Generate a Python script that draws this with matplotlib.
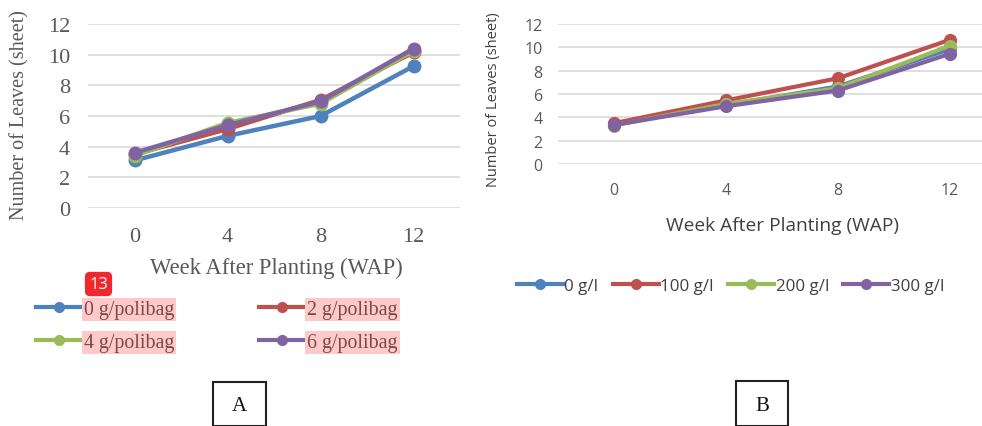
import matplotlib.pyplot as plt
import matplotlib.patches as mpatches
import numpy as np

# Panel A: leaves per polybag dose
weeks = ["0", "4", "8", "12"]
labels_a = ["0 g/polibag", "2 g/polibag", "4 g/polibag", "6 g/polibag"]
a_0 = [3.1, 4.7, 6.0, 9.25]
a_2 = [3.5, 5.15, 7.05, 10.15]
a_4 = [3.4, 5.55, 6.8, 10.25]
a_6 = [3.6, 5.4, 6.95, 10.4]

# Panel B: leaves per concentration
labels_b = ["0 g/l", "100 g/l", "200 g/l", "300 g/l"]
b_0 = [3.4, 5.05, 6.65, 9.85]
b_100 = [3.5, 5.45, 7.35, 10.65]
b_200 = [3.3, 5.15, 6.5, 10.15]
b_300 = [3.35, 4.95, 6.3, 9.45]

colors = ["#4F81BD", "#C0504D", "#9BBB59", "#8064A2"]
grey = "#595959"

W, H = 982, 427
fig = plt.figure(figsize=(W / 100, H / 100), dpi=100)


def px_axes(left, top, right, bottom):
    return fig.add_axes([left / W, 1 - bottom / H, (right - left) / W, (bottom - top) / H])


def style(ax, font, size, xpad, ypad):
    ax.set_ylim(0, 12)
    ax.set_yticks(np.arange(0, 13, 2))
    ax.set_xlim(-0.5, 3.5)
    ax.set_xticks(range(len(weeks)))
    ax.set_xticklabels(weeks)
    ax.grid(axis="y", color="#D9D9D9", lw=1.2)
    ax.set_axisbelow(True)
    for s in ax.spines.values():
        s.set_visible(False)
    ax.tick_params(length=0, labelcolor=grey, labelsize=size)
    ax.tick_params(axis="x", pad=xpad)
    ax.tick_params(axis="y", pad=ypad)
    for t in ax.get_xticklabels() + ax.get_yticklabels():
        t.set_family(font)


x = np.arange(len(weeks))

# ---- A ----
serif = "Liberation Serif"
axA = px_axes(88, 25, 460, 209)
hA = []
for y, c, lab in zip([a_0, a_2, a_4, a_6], colors, labels_a):
    ln, = axA.plot(x, y, color=c, lw=3.2, marker="o", ms=9, label=lab)
    hA.append(ln)
style(axA, serif, 16, 14, 13)
fig.text(20 / W, 1 - 115 / H, "Number of Leaves (sheet)", rotation=90, ha="center", va="center",
         family=serif, size=14.5, color=grey)
fig.text(276 / W, 1 - 268 / H, "Week After Planting (WAP)", ha="center", va="center",
         family=serif, size=16.3, color=grey)

order = [0, 2, 1, 3]
legA = fig.legend([hA[i] for i in order], [labels_a[i] for i in order], ncol=2,
                  loc="upper left", bbox_to_anchor=(36 / W, 1 - 301 / H), frameon=False,
                  prop={"family": serif, "size": 14.3}, handlelength=2.3, handletextpad=0.1,
                  columnspacing=4.3, labelspacing=0.72, borderaxespad=0, borderpad=0)
for ln in legA.get_lines():
    ln.set_markersize(7)
    ln.set_linewidth(3)
for t in legA.get_texts():
    t.set_color("#7A4A4A")
    t.set_bbox(dict(facecolor="#FFC9C9", edgecolor="none", pad=1.5))

# "13" badge
fig.text(98.5 / W, 1 - 285 / H, "13", ha="center", va="center", color="white", size=12,
         family="Open Sans",
         bbox=dict(boxstyle="round,pad=0.25,rounding_size=0.3", facecolor="#F0282D", edgecolor="none"))

# ---- B ----
sans = "Open Sans"
axB = px_axes(558, 25, 1006, 165)
hB = []
for y, c, lab in zip([b_0, b_100, b_200, b_300], colors, labels_b):
    ln, = axB.plot(x, y, color=c, lw=3, marker="o", ms=8.5, label=lab)
    hB.append(ln)
style(axB, sans, 11.5, 13, 11)
fig.text(494 / W, 1 - 100 / H, "Number of Leaves (sheet)", rotation=90, ha="center", va="center",
         family=sans, size=10.5, color="#404040")
fig.text(782 / W, 1 - 226 / H, "Week After Planting (WAP)", ha="center", va="center",
         family=sans, size=13.8, color="#404040")

legB = fig.legend(hB, labels_b, ncol=4, loc="center left", bbox_to_anchor=(517 / W, 1 - 287 / H),
                  frameon=False, prop={"family": sans, "size": 12.2}, handlelength=2.7,
                  handletextpad=0.1, columnspacing=0.85, borderaxespad=0, borderpad=0)
for ln in legB.get_lines():
    ln.set_markersize(7)
    ln.set_linewidth(3)
for t in legB.get_texts():
    t.set_color("#404040")

# panel boxes
for (l, t_, r, lab) in [(213, 383, 266, "A"), (736, 382, 788, "B")]:
    fig.patches.append(mpatches.Rectangle((l / W, 0), (r - l) / W, 1 - t_ / H,
                                          transform=fig.transFigure, fill=False,
                                          edgecolor="#222222", lw=1.5))
    fig.text((l + r) / 2 / W, 1 - 407 / H, lab, ha="center", va="center",
             family=serif, size=15, color="#111111")

fig.savefig("out.png", dpi=100)
